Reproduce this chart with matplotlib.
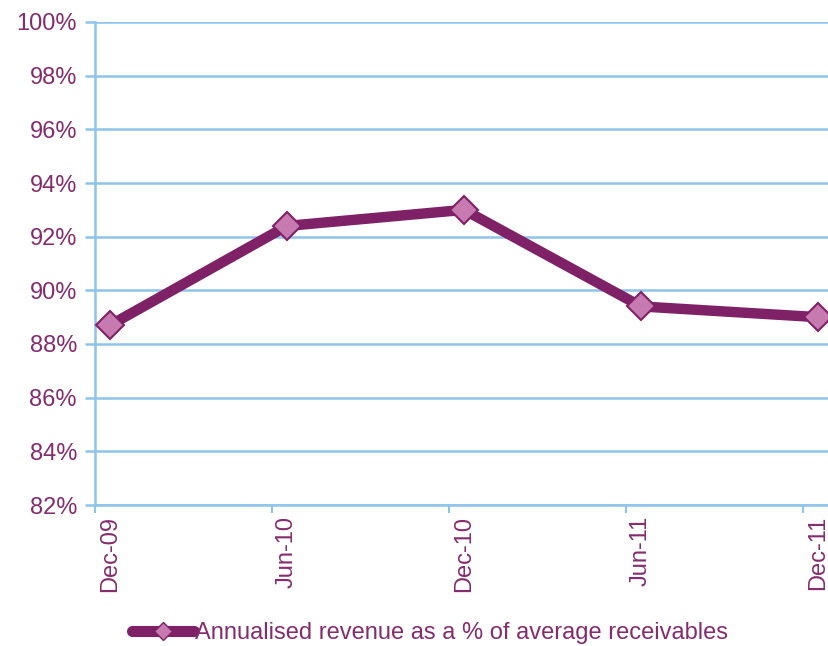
import matplotlib
matplotlib.use("Agg")
import matplotlib.pyplot as plt
from matplotlib.ticker import FuncFormatter, FixedLocator
from matplotlib.lines import Line2D

categories = ["Dec-09", "Jun-10", "Dec-10", "Jun-11", "Dec-11"]
values = [88.7, 92.4, 93.0, 89.4, 89.0]
series_label = "Annualised revenue as a % of average receivables"

text_color = "#852C6E"
line_color = "#7E2167"
marker_fill = "#C77AB0"
grid_color = "#8EC4EA"

plt.rcParams["font.family"] = ["Liberation Sans", "DejaVu Sans"]

fig = plt.figure(figsize=(8.29, 6.46), dpi=100)
ax = fig.add_axes([95 / 829, 1 - 505 / 646, 1 - 95 / 829, (505 - 22) / 646])

offset = 0.085
xs = [i + offset for i in range(len(categories))]
ax.plot(xs, values, color=line_color, linewidth=7.5, solid_capstyle="round",
        marker="D", markersize=14, markerfacecolor=marker_fill,
        markeredgecolor=line_color, markeredgewidth=1.5, zorder=3, clip_on=False)

ax.set_xlim(0, (829 - 95) / 177)
ax.set_ylim(82, 100)
ax.yaxis.set_major_locator(FixedLocator(list(range(82, 101, 2))))
ax.yaxis.set_major_formatter(FuncFormatter(lambda v, p: f"{int(round(v))}%"))
ax.set_xticks(xs)
ax.set_xticklabels(categories, rotation=90)
ax.set_xticks(range(len(categories)), minor=True)

ax.grid(axis="y", color=grid_color, linewidth=1.8)
ax.set_axisbelow(True)
for s in ["top", "right"]:
    ax.spines[s].set_visible(False)
for s in ["left", "bottom"]:
    ax.spines[s].set_color(grid_color)
    ax.spines[s].set_linewidth(1.8)

ax.tick_params(axis="y", colors=grid_color, labelcolor=text_color, labelsize=17,
               length=7, width=1.8, pad=6)
ax.tick_params(axis="x", which="major", length=0, labelcolor=text_color,
               labelsize=17, pad=8)
ax.tick_params(axis="x", which="minor", colors=grid_color, length=6, width=1.5,
               direction="out")

handle = Line2D([0], [0], color=line_color, linewidth=8, marker="D", markersize=9,
                markerfacecolor=marker_fill, markeredgecolor=line_color,
                solid_capstyle="round")
leg = fig.legend([handle], [series_label], loc="center", bbox_to_anchor=(0.519, 0.02),
                 frameon=False, fontsize=17, handlelength=2.6, handletextpad=0.05,
                 labelcolor=text_color)

fig.savefig("out.png", dpi=100)
